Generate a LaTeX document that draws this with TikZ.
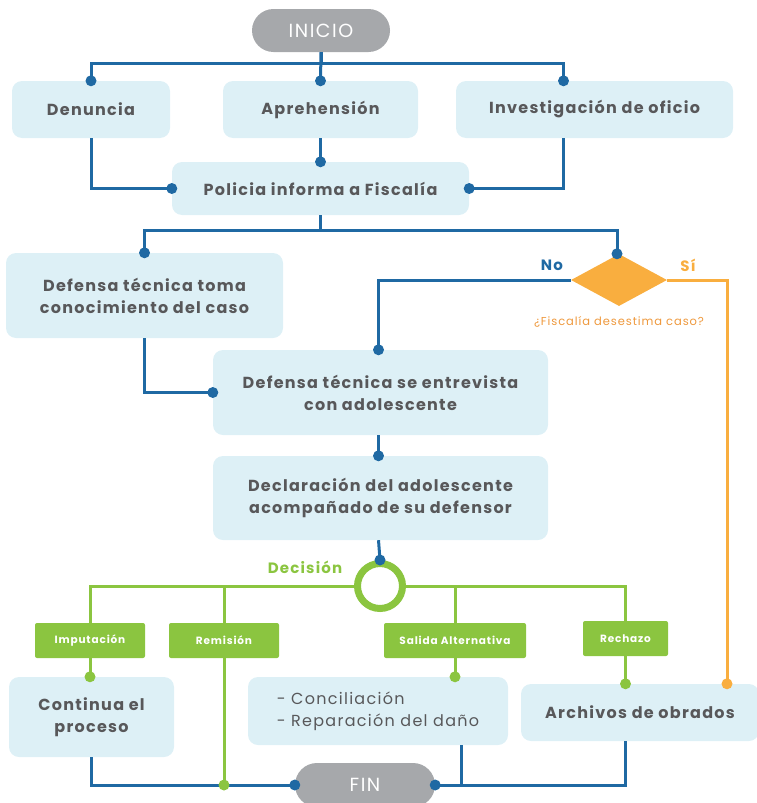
\documentclass[tikz,border=0pt]{standalone}
\usepackage{fontspec}
\setmainfont{Poppins}[LetterSpace=8]
\usetikzlibrary{shapes.geometric,calc}
\definecolor{flowblue}{HTML}{1F69A3}
\definecolor{boxfill}{HTML}{DDF0F6}
\definecolor{txtgray}{HTML}{58585A}
\definecolor{decgreen}{HTML}{8BC540}
\definecolor{nogo}{HTML}{F9AE3F}
\definecolor{qorange}{HTML}{EE983C}
\definecolor{pillgray}{HTML}{A6A8AB}
\begin{document}
\begin{tikzpicture}[x=1pt,y=-1pt,
  stepbox/.style={rectangle,rounded corners=10pt,fill=boxfill,draw=none,text=txtgray,
    font=\bfseries\fontsize{16}{22}\selectfont,align=center,inner sep=0pt},
  pill/.style={rectangle,rounded corners=21.5pt,fill=pillgray,text=white,
    font=\fontsize{19}{20}\selectfont,minimum width=138pt,minimum height=43pt},
  tag/.style={rectangle,rounded corners=2pt,fill=decgreen,text=white,
    font=\bfseries\fontsize{10.5}{12}\selectfont,minimum height=35pt,inner sep=0pt},
  bline/.style={draw=flowblue,line width=3pt},
  gline/.style={draw=decgreen,line width=3pt},
  oline/.style={draw=nogo,line width=3pt},
  bdot/.style={circle,fill=flowblue,inner sep=0pt,minimum size=11pt},
  gdot/.style={circle,fill=decgreen,inner sep=0pt,minimum size=11pt},
  odot/.style={circle,fill=nogo,inner sep=0pt,minimum size=11pt}]
\useasboundingbox (0,0) rectangle (757,803);

% ---- nodes ----
\node[pill] (inicio) at (321,30.5) {INICIO};
\node[stepbox,minimum width=158pt,minimum height=57pt] (den) at (91,109.5) {Denuncia};
\node[stepbox,minimum width=195pt,minimum height=57pt] (apr) at (320.5,109.5) {Aprehensión};
\node[stepbox,minimum width=277pt,minimum height=57pt] (inv) at (594.5,109.5) {Investigación de oficio};
\node[stepbox,minimum width=297pt,minimum height=53pt] (pol) at (320.5,188.5) {Policia informa a Fiscalía};
\node[stepbox,minimum width=277pt,minimum height=85pt] (dtm) at (144.5,295.5) {Defensa técnica toma\\conocimiento del caso};
\node[diamond,fill=nogo,minimum width=96pt,minimum height=52pt,inner sep=0pt,aspect=1.85] (dia) at (619,280) {};
\node[text=flowblue,font=\bfseries\fontsize{15}{16}\selectfont] (no) at (552,265) {No};
\node[text=nogo,font=\bfseries\fontsize{15}{16}\selectfont] (si) at (688,265) {Sí};
\node[text=qorange,font=\fontsize{11.5}{12}\selectfont] (q) at (619,322) {¿Fiscalía desestima caso?};
\node[stepbox,minimum width=335pt,minimum height=85pt] (ent) at (380.5,392.5) {Defensa técnica se entrevista\\con adolescente};
\node[stepbox,minimum width=335pt,minimum height=84pt] (dec) at (380.5,498) {Declaración del adolescente\\acompañado de su defensor};
\node[circle,draw=decgreen,line width=7pt,minimum size=45pt,inner sep=0pt] (ring) at (380,586) {};
\node[text=decgreen,font=\bfseries\fontsize{15}{16}\selectfont] (decis) at (305,567) {Decisión};
\node[tag,minimum width=110pt] (imp) at (90,640.5) {Imputación};
\node[tag,minimum width=110pt] (rem) at (224,640.5) {Remisión};
\node[tag,minimum width=142pt] (sal) at (455,640.5) {Salida Alternativa};
\node[tag,minimum width=85pt] (rec) at (625.5,638.5) {Rechazo};
\node[stepbox,minimum width=165pt,minimum height=80pt] (cont) at (91.5,717) {Continua el\\proceso};
\node[stepbox,minimum width=260pt,minimum height=68pt,font=\fontsize{16}{22}\selectfont,align=left] (cnc) at (378,711) {- Conciliación\\- Reparación del daño};
\node[stepbox,minimum width=238pt,minimum height=57pt] (arc) at (640,712.5) {Archivos de obrados};
\node[pill,minimum width=140pt,minimum height=44pt,rounded corners=22pt] (fin) at (365,785) {FIN};

% ---- connectors: start ----
\draw[bline] (inicio.south) -- ++(0,11) -| (den.north);
\draw[bline] (inicio.south) -- ++(0,11) -| ([xshift=-31pt]inv.north);
\draw[bline] (inicio.south) -- (apr.north);
\node[bdot] at (den.north) {};
\node[bdot] at (apr.north) {};
\node[bdot] at ([xshift=-31pt]inv.north) {};
\draw[bline] (den.south) |- (pol.west);
\draw[bline] (apr.south) -- (pol.north);
\draw[bline] ([xshift=-31pt]inv.south) |- (pol.east);
\node[bdot] at (pol.west) {};
\node[bdot] at (pol.north) {};
\node[bdot] at (pol.east) {};

% ---- connectors: defence and prosecutor ----
\draw[bline] (pol.south) -- ++(0,15) -| (dtm.north);
\draw[bline] (pol.south) -- ++(0,15) -| ([xshift=-2pt]dia.north);
\node[bdot] at (dtm.north) {};
\node[bdot] at ([xshift=-2pt]dia.north) {};
\draw[bline] (dia.west) -| ([xshift=-2pt]ent.north);
\node[bdot] at ([xshift=-2pt]ent.north) {};
\draw[oline] (dia.east) -| ([xshift=87pt]arc.north);
\node[odot] at ([xshift=87pt]arc.north) {};
\draw[bline] (dtm.south) |- (ent.west);
\node[bdot] at (ent.west) {};
\draw[bline] ([xshift=-2pt]ent.south) -- ([xshift=-2pt]dec.north);
\node[bdot] at ([xshift=-2pt]dec.north) {};
\draw[bline] ([xshift=-2pt]dec.south) -- (ring.north);
\node[bdot] at (ring.north) {};

% ---- connectors: decision branches ----
\draw[gline] (ring.west) -| (imp.north);
\draw[gline] (ring.west) -| (rem.north);
\draw[gline] (ring.east) -| (sal.north);
\draw[gline] (ring.east) -| (rec.north);
\draw[gline] (imp.south) -- ([xshift=-1.5pt]cont.north);
\node[gdot] at ([xshift=-1.5pt]cont.north) {};
\draw[gline] (sal.south) -- (sal.south |- cnc.north);
\node[gdot] at (sal.south |- cnc.north) {};
\draw[gline] (rec.south) -- (rec.south |- arc.north);
\node[gdot] at (rec.south |- arc.north) {};

% ---- connectors: end ----
\draw[bline] (cont.south) |- (fin.west);
\draw[bline] ([xshift=83pt]cnc.south) -- ([xshift=83pt]cnc.south |- fin.east);
\draw[bline] (rec.south |- arc.south) |- (fin.east);
\draw[gline] (rem.south) -- (rem.south |- fin.west);
\node[gdot] at (rem.south |- fin.west) {};
\node[bdot] at (fin.west) {};
\node[bdot] at (fin.east) {};
\end{tikzpicture}
\end{document}
